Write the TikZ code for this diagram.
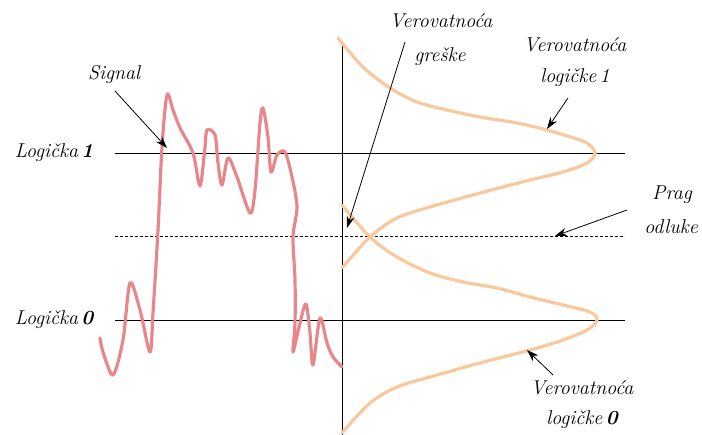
\documentclass[tikz,border=0pt]{standalone}
\usepackage{fontspec}
\usetikzlibrary{arrows.meta}
\definecolor{sigcol}{HTML}{E8878A}
\definecolor{pdfcol}{HTML}{F9C89D}
\tikzset{
  lbl/.style={font=\rmfamily\fontsize{20}{22}\selectfont\itshape, inner sep=0pt},
  axisline/.style={line width=0.9pt, black},
  ptr/.style={line width=0.8pt, -{Stealth[length=12pt,width=8pt]}},
  sig/.style={line width=3.2pt, sigcol, line cap=round, line join=round},
  pdf/.style={line width=3.2pt, pdfcol, line cap=round, line join=round},
}
\begin{document}
\begin{tikzpicture}[x=1pt,y=-1pt]
\useasboundingbox (0,0) rectangle (702,435);
% axes and levels
\draw[axisline] (342,43) -- (342,435);
\draw[axisline] (115,153) -- (625,153);
\draw[axisline] (115,320) -- (625,320);
\draw[line width=0.7pt, dash pattern=on 3pt off 2pt] (115,236) -- (625,236);
% probability curves
\draw[pdf] plot[smooth, tension=0.55] coordinates {(338,38) (363,67) (390,88) (417,102) (447,110) (480,117) (517,123) (547,130) (570,137) (587,143) (595,153) (587,163) (563,172) (530,180) (480,193) (430,207) (397,218) (370,237) (342,268)};
\draw[pdf] plot[smooth, tension=0.55] coordinates {(342,205) (370,237) (397,257) (430,273) (463,282) (497,288) (530,297) (563,305) (590,312) (597,320) (587,330) (563,340) (530,350) (480,363) (430,377) (397,387) (370,403) (342,433)};
% signal
\draw[sig] plot[smooth, tension=0.5] coordinates {(100,338) (103,352) (113,375) (123,340) (130,283) (140,310) (150,352) (153,313) (158,230) (162,147) (167,95) (173,110) (180,128) (193,153) (200,186) (205,147) (207,130) (215,135) (218,163) (222,185) (228,158) (237,177) (250,213) (255,190) (260,123) (263,108) (268,137) (271,172) (277,155) (285,152) (292,177) (297,207) (293,237) (295,280) (295,323) (293,352) (300,323) (306,304) (310,333) (313,365) (320,318) (327,343) (333,357) (342,367)};
% labels
\node[lbl] (signal) at (114,75) {Signal};
\node[lbl] (log1) at (54,153) {Logička\,\textbf{1}};
\node[lbl] (log0) at (54,320) {Logička\,\textbf{0}};
\node[lbl] (ver1) at (441,21) {Verovatnoća};
\node[lbl] (gr) at (440,57) {greške};
\node[lbl] (ver2) at (575,45) {Verovatnoća};
\node[lbl] (lg1) at (575,78) {logičke\,1};
\node[lbl] (prag) at (672,195) {Prag};
\node[lbl] (odl) at (671,227) {odluke};
\node[lbl] (ver3) at (582,388) {Verovatnoća};
\node[lbl] (lg0) at (582,420) {logičke\,\textbf{0}};
% arrow ends
\coordinate (sA) at (115,91);
\coordinate (sB) at (167,148);
\coordinate (gA) at (405,42);
\coordinate (gB) at (347,228);
\coordinate (lA) at (568,98);
\coordinate (lB) at (547,129);
\coordinate (pA) at (627,210);
\coordinate (pB) at (555,236);
\coordinate (oA) at (553,375);
\coordinate (oB) at (527,350);
\draw[ptr] (sA) -- (sB);
\draw[ptr] (gA) -- (gB);
\draw[ptr] (lA) -- (lB);
\draw[ptr] (pA) -- (pB);
\draw[ptr] (oA) -- (oB);
\end{tikzpicture}
\end{document}
